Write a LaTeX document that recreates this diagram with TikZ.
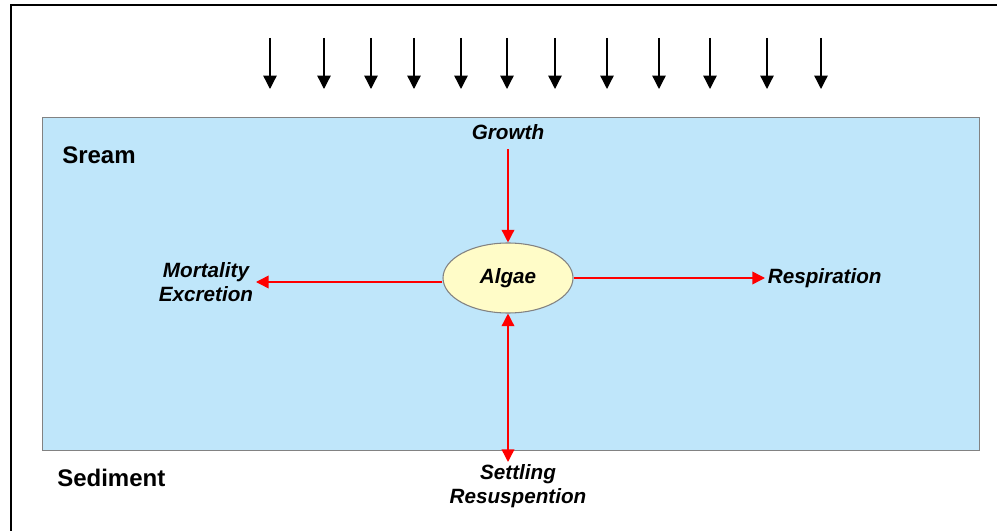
\documentclass[tikz,border=0pt]{standalone}
\usepackage{fontspec}
\setmainfont{Liberation Sans}
\usetikzlibrary{arrows.meta,shapes.geometric}
\definecolor{waterblue}{RGB}{191,230,250}
\definecolor{algaeyellow}{RGB}{255,252,200}
\definecolor{edgegray}{RGB}{130,130,130}
\definecolor{flowred}{RGB}{255,0,0}
\begin{document}
\begin{tikzpicture}[x=0.75pt,y=-0.75pt,
  lightarrow/.style={draw=black, line width=1pt, -{Triangle[width=10pt,length=10pt]}},
  flow/.style={draw=flowred, line width=1.1pt, -{Triangle[width=9.5pt,length=9.5pt]}},
  flowboth/.style={draw=flowred, line width=1.1pt, {Triangle[width=9.5pt,length=9.5pt]}-{Triangle[width=9.5pt,length=9.5pt]}},
  proc/.style={font=\fontsize{15.5}{18}\selectfont\bfseries\itshape, inner sep=2pt, align=center},
  zone/.style={font=\fontsize{18}{21}\selectfont\bfseries, inner sep=0pt, anchor=west}
]
\useasboundingbox (0,0) rectangle (997,531);
\fill[white] (0,0) rectangle (997,531);
\draw[line width=2.2pt] (11,531) -- (11,5) -- (997,5);
% stream box
\node (stream) [draw=edgegray, fill=waterblue, line width=1pt, minimum width=702.75pt, minimum height=249.75pt, inner sep=0pt, anchor=north west] at (42,117) {};
% light arrows
\foreach \x [count=\i] in {270,324,371,414,461,507,555,607,659,710,767,821}{
  \coordinate (s\i) at (\x,38);
  \coordinate (e\i) at (\x,89);
  \draw[lightarrow] (s\i) -- (e\i);
}
\node (sream) [zone] at (62,155) {Sream};
\node (sediment) [zone] at (57,478) {Sediment};
\node (algae) [ellipse, draw=edgegray, line width=0.8pt, fill=algaeyellow, minimum width=97.5pt, minimum height=52.5pt, inner sep=0pt, font=\fontsize{15.5}{18}\selectfont\bfseries\itshape] at (508,278) {Algae};
\node (growth) [proc] at (508,132) {Growth};
\node (mortality) [proc, anchor=east] at (256,282) {Mortality\\Excretion};
\node (respiration) [proc, anchor=west] at (765,278) {Respiration};
\node (settling) [proc, anchor=north] at (518,462) {Settling\\Resuspention};
\draw[flow, shorten <=5pt] (growth.south) -- (algae.north);
\draw[flow] (algae.west |- mortality.east) -- (mortality.east);
\draw[flow] (algae.east) -- (respiration.west);
\draw[flowboth] (algae.south) -- (algae.south |- settling.north);
\end{tikzpicture}
\end{document}
